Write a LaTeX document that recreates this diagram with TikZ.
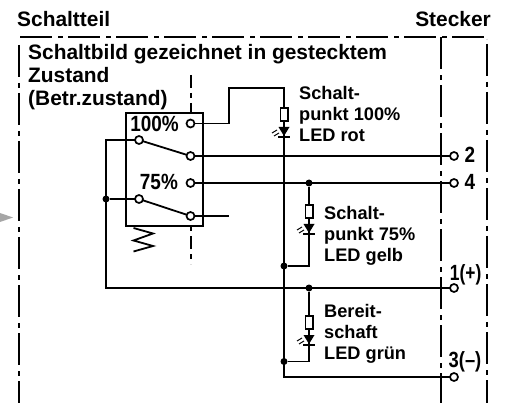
\documentclass[tikz,border=0pt]{standalone}
\usepackage{fontspec}
\setmainfont{Liberation Sans}
\begin{document}
\begin{tikzpicture}[x=1pt, y=-1pt,
    wire/.style={line width=1.8pt},
    frameline/.style={line width=2pt, dash pattern=on 32pt off 6pt on 5pt off 5pt},
    dot/.style={circle, fill=black, inner sep=0pt, minimum size=7pt},
    port/.style={circle, draw, fill=white, line width=1.7pt, inner sep=0pt, minimum size=8pt},
    res/.style={rectangle, draw, fill=white, line width=1.5pt, inner sep=0pt, minimum width=7.5pt, minimum height=13pt},
    title/.style={font=\bfseries\fontsize{20.9}{23}\selectfont, inner sep=0pt, anchor=base west},
    note/.style={font=\bfseries\fontsize{18.2}{21}\selectfont, inner sep=0pt, anchor=north west, align=left},
    num/.style={font=\bfseries\fontsize{22}{23}\selectfont, inner sep=0pt, xscale=0.86}]

    \useasboundingbox (0, 0) rectangle (508, 403);

    \fill [black!35] (0, 213) -- (13, 217.5) -- (0, 222) -- cycle;

    \coordinate (a) at (20, 37.2);
    \coordinate (b) at (487, 37.2);
    \coordinate (c) at (18.7, 45);
    \coordinate (d) at (18.7, 403);
    \coordinate (e) at (440.8, 37.2);
    \coordinate (f) at (440.8, 403);
    \coordinate (g) at (487.3, 39);
    \coordinate (h) at (487.3, 403);
    \draw [frameline] (a) to (b);
    \draw [frameline] (c) to (d);
    \draw [frameline] (e) to (f);
    \draw [frameline, dash phase=43pt] (g) to (h);

    \node [title] (titleleft) at (17, 26.5) {Schaltteil};
    \node [title, anchor=base east] (titleright) at (491, 26.5) {Stecker};
    \node [title] (head) at (28, 60) {Schaltbild gezeichnet in gestecktem};
    \node [title] (headb) at (28, 83) {Zustand};
    \node [title] (headc) at (28, 106) {(Betr.zustand)};

    \node [draw, line width=1.8pt, minimum width=77pt, minimum height=113pt, inner sep=0pt] (box) at (164.5, 169.5) {};
    \coordinate (u) at (191, 75);
    \coordinate (v) at (191, 113);
    \coordinate (w) at (191, 226);
    \coordinate (x) at (191, 264);
    \draw [frameline, dash pattern=on 13pt off 5pt on 5pt off 5pt] (u) to (v);
    \draw [frameline, dash pattern=on 5pt off 5pt on 13pt off 5pt] (w) to (x);

    \node [dot] (ja) at (106, 199) {};
    \node [dot] (jb) at (309, 183) {};
    \node [dot] (jc) at (309, 288) {};
    \node [dot] (jd) at (284, 266) {};
    \node [dot] (je) at (284, 361.5) {};

    \coordinate (m) at (229, 123.5);
    \coordinate (n) at (229, 88);
    \coordinate (o) at (284, 88);
    \coordinate (p) at (284, 377);
    \coordinate (q) at (106, 140);
    \coordinate (r) at (106, 288);
    \coordinate (s) at (229, 216);
    \coordinate (y) at (309, 266);
    \coordinate (z) at (309, 361.5);
    \coordinate (pa) at (190.5, 123.5);
    \coordinate (pb) at (190.5, 156);
    \coordinate (pc) at (190.5, 183);
    \coordinate (pd) at (190.5, 216);
    \coordinate (sa) at (139, 140);
    \coordinate (sb) at (139, 199);
    \coordinate (t2) at (454, 156);
    \coordinate (t4) at (454, 183);
    \coordinate (t1) at (454, 288);
    \coordinate (t3) at (454, 377);

    \draw [wire] (pa) -- (m) -- (n) -- (o) -- (p) -- (t3);
    \draw [wire] (pb) to (t2);
    \draw [wire] (pc) to (t4);
    \draw [wire] (sa) -- (q) -- (r) -- (t1);
    \draw [wire] (ja) to (sb);
    \draw [wire] (sa) to (pb);
    \draw [wire] (sb) to (pd);
    \draw [wire] (pd) to (s);
    \draw [wire] (jb) -- (y) -- (jd);
    \draw [wire] (jc) -- (z) -- (je);

    \node [port] (ca) at (pa) {};
    \node [port] (cb) at (pb) {};
    \node [port] (cc) at (pc) {};
    \node [port] (cd) at (pd) {};
    \node [port] (ce) at (sa) {};
    \node [port] (cf) at (sb) {};
    \node [port] (cg) at (t2) {};
    \node [port] (ch) at (t4) {};
    \node [port] (ci) at (t1) {};
    \node [port] (cj) at (t3) {};

    \node [num, anchor=base east] (lhundred) at (179, 132) {100\%};
    \node [num, anchor=base east] (lseventy) at (178, 190) {75\%};
    \node [num, anchor=base west] (ltwo) at (464.5, 163) {2};
    \node [num, anchor=base west] (lfour) at (464.5, 190) {4};
    \node [num, xscale=0.92, anchor=base east] (lone) at (481.5, 280) {1(+)};
    \node [num, xscale=0.97, anchor=base east] (lthree) at (481.5, 367) {3(--)};

    \node [res] (ra) at (284, 114.5) {};
    \node [res] (rb) at (309, 211.5) {};
    \node [res] (rc) at (309, 322.5) {};

    \fill (278.5, 127) -- (289.5, 127) -- (284, 136) -- cycle;
    \draw [line width=1.4pt] (278, 137) -- (290, 137);
    \draw [line width=1pt] (272, 133) -- (277, 130);
    \draw [line width=1pt] (274, 136) -- (279, 133);
    \fill (303.5, 224) -- (314.5, 224) -- (309, 233) -- cycle;
    \draw [line width=1.4pt] (303, 234) -- (315, 234);
    \draw [line width=1pt] (297, 230) -- (302, 227);
    \draw [line width=1pt] (299, 233) -- (304, 230);
    \fill (303.5, 335) -- (314.5, 335) -- (309, 344) -- cycle;
    \draw [line width=1.4pt] (303, 345) -- (315, 345);
    \draw [line width=1pt] (297, 341) -- (302, 338);
    \draw [line width=1pt] (299, 344) -- (304, 341);

    \draw [wire] (133.5, 228) -- (153, 233.5) -- (133.5, 240.5) -- (153, 246) -- (133.5, 251.5);

    \node [note] (na) at (299, 86) {Schalt-\\punkt 100\%\\LED rot};
    \node [note] (nb) at (324, 206) {Schalt-\\punkt 75\%\\LED gelb};
    \node [note] (nc) at (324, 304) {Bereit-\\schaft\\LED grün};

\end{tikzpicture}
\end{document}
